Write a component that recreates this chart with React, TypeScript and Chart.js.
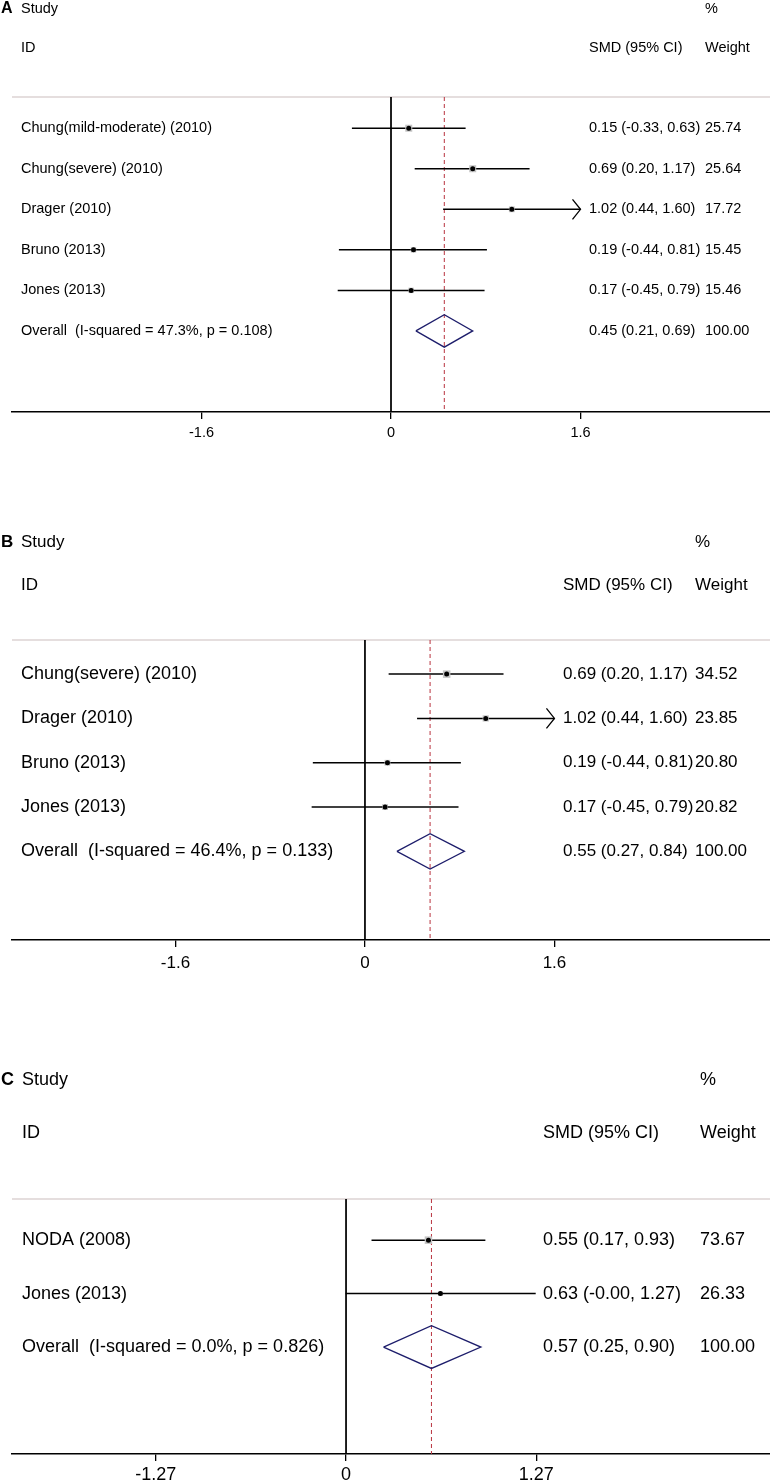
import React, { useEffect, useRef } from "react";
import { Chart, registerables } from "chart.js";

Chart.register(...registerables);

const FONT = "'Liberation Sans', Arial, Helvetica, sans-serif";

// ---------- Panel A ----------
const studiesA = ["Chung(mild-moderate) (2010)", "Chung(severe) (2010)", "Drager (2010)", "Bruno (2013)", "Jones (2013)"];
const smdA = [0.15, 0.69, 1.02, 0.19, 0.17];
const lowerA = [-0.33, 0.2, 0.44, -0.44, -0.45];
const upperA = [0.63, 1.17, 1.604, 0.81, 0.79];
const weightA = [25.74, 25.64, 17.72, 15.45, 15.46];
const overallLabelA = "Overall  (I-squared = 47.3%, p = 0.108)";
const overallA = [0.45, 0.21, 0.69]; // estimate, lower, upper
const overallWeightA = 100.0;
const ticksA = [-1.6, 0, 1.6];
const tickLabelsA = ["-1.6", "0", "1.6"];
const xRangeA = [-3.2, 3.2];

// ---------- Panel B ----------
const studiesB = ["Chung(severe) (2010)", "Drager (2010)", "Bruno (2013)", "Jones (2013)"];
const smdB = [0.69, 1.02, 0.19, 0.17];
const lowerB = [0.2, 0.44, -0.44, -0.45];
const upperB = [1.17, 1.604, 0.81, 0.79];
const weightB = [34.52, 23.85, 20.8, 20.82];
const overallLabelB = "Overall  (I-squared = 46.4%, p = 0.133)";
const overallB = [0.55, 0.27, 0.84];
const overallWeightB = 100.0;
const ticksB = [-1.6, 0, 1.6];
const tickLabelsB = ["-1.6", "0", "1.6"];
const xRangeB = [-2.98, 3.42];

// ---------- Panel C ----------
const studiesC = ["NODA (2008)", "Jones (2013)"];
const smdC = [0.55, 0.63];
const lowerC = [0.17, -0.003];
const upperC = [0.93, 1.266];
const weightC = [73.67, 26.33];
const overallLabelC = "Overall  (I-squared = 0.0%, p = 0.826)";
const overallC = [0.57, 0.25, 0.9];
const overallWeightC = 100.0;
const ticksC = [-1.27, 0, 1.27];
const tickLabelsC = ["-1.27", "0", "1.27"];
const xRangeC = [-2.23, 2.83];

type PanelData = {
  letter: string;
  studies: string[];
  smd: number[];
  lower: number[];
  upper: number[];
  weight: number[];
  overallLabel: string;
  overall: number[];
  overallWeight: number;
  ticks: number[];
  tickLabels: string[];
  xRange: number[];
};

type Layout = {
  top: number;
  height: number;
  padTop: number;
  axisH: number;
  font: number;
  labelFont: number;
  tickFont: number;
  letterFont: number;
  headY1: number;
  headY2: number;
  letterX: number;
  labelX: number;
  ciX: number;
  wX: number;
  maxBox: number;
  tickPad: number;
};

const panelA: PanelData = {
  letter: "A", studies: studiesA, smd: smdA, lower: lowerA, upper: upperA, weight: weightA,
  overallLabel: overallLabelA, overall: overallA, overallWeight: overallWeightA,
  ticks: ticksA, tickLabels: tickLabelsA, xRange: xRangeA,
};
const panelB: PanelData = {
  letter: "B", studies: studiesB, smd: smdB, lower: lowerB, upper: upperB, weight: weightB,
  overallLabel: overallLabelB, overall: overallB, overallWeight: overallWeightB,
  ticks: ticksB, tickLabels: tickLabelsB, xRange: xRangeB,
};
const panelC: PanelData = {
  letter: "C", studies: studiesC, smd: smdC, lower: lowerC, upper: upperC, weight: weightC,
  overallLabel: overallLabelC, overall: overallC, overallWeight: overallWeightC,
  ticks: ticksC, tickLabels: tickLabelsC, xRange: xRangeC,
};

const layoutA: Layout = {
  top: 0, height: 480, padTop: 97, axisH: 68, font: 14.5, labelFont: 14.5, tickFont: 14.5, letterFont: 16,
  headY1: 9, headY2: 48, letterX: 1, labelX: 21, ciX: 589, wX: 705, maxBox: 7, tickPad: 5,
};
const layoutB: Layout = {
  top: 480, height: 520, padTop: 160, axisH: 60, font: 17, labelFont: 18, tickFont: 17, letterFont: 17,
  headY1: 62, headY2: 105, letterX: 1, labelX: 21, ciX: 563, wX: 695, maxBox: 7.5, tickPad: 6,
};
const layoutC: Layout = {
  top: 1000, height: 482, padTop: 199, axisH: 28, font: 18, labelFont: 18, tickFont: 18, letterFont: 18,
  headY1: 80, headY2: 133, letterX: 1, labelX: 22, ciX: 543, wX: 700, maxBox: 7.5, tickPad: 3,
};

const Y_TOP = -0.77;
const DIAMOND_HALF = 0.4;

function makeTextPlugin(p: PanelData, L: Layout) {
  return {
    id: "forestText" + p.letter,
    beforeDatasetsDraw(chart: any) {
      const { ctx, chartArea } = chart;
      ctx.save();
      ctx.strokeStyle = "#dcd3d3";
      ctx.lineWidth = 1.5;
      ctx.beginPath();
      ctx.moveTo(chartArea.left, chartArea.top);
      ctx.lineTo(chartArea.right, chartArea.top);
      ctx.stroke();
      ctx.restore();
    },
    afterDatasetsDraw(chart: any) {
      const { ctx } = chart;
      const xs = chart.scales.x;
      const ys = chart.scales.y;
      const clipMax = p.ticks[p.ticks.length - 1];
      ctx.save();
      ctx.strokeStyle = "#000";
      ctx.lineWidth = 1.3;
      p.upper.forEach((u, i) => {
        if (u > clipMax) {
          const tx = xs.getPixelForValue(clipMax);
          const ty = ys.getPixelForValue(i);
          ctx.beginPath();
          ctx.moveTo(tx - 8, ty - 10);
          ctx.lineTo(tx, ty);
          ctx.lineTo(tx - 8, ty + 10);
          ctx.stroke();
        }
      });
      ctx.restore();
    },
    afterDraw(chart: any) {
      const { ctx } = chart;
      const ys = chart.scales.y;
      ctx.save();
      ctx.fillStyle = "#000";
      ctx.textBaseline = "middle";
      ctx.textAlign = "left";
      ctx.font = `bold ${L.letterFont}px ${FONT}`;
      ctx.fillText(p.letter, L.letterX, L.headY1);
      ctx.font = `${L.font}px ${FONT}`;
      ctx.fillText("Study", L.labelX, L.headY1);
      ctx.fillText("%", L.wX, L.headY1);
      ctx.fillText("ID", L.labelX, L.headY2);
      ctx.fillText("SMD (95% CI)", L.ciX, L.headY2);
      ctx.fillText("Weight", L.wX, L.headY2);
      const fmtCI = (e: number, lo: number, hi: number) =>
        `${e.toFixed(2)} (${lo.toFixed(2)}, ${hi.toFixed(2)})`;
      p.studies.forEach((s, i) => {
        const y = ys.getPixelForValue(i);
        ctx.font = `${L.labelFont}px ${FONT}`;
        ctx.fillText(s, L.labelX, y);
        ctx.font = `${L.font}px ${FONT}`;
        ctx.fillText(fmtCI(p.smd[i], p.lower[i], p.upper[i]), L.ciX, y);
        ctx.fillText(p.weight[i].toFixed(2), L.wX, y);
      });
      const oy = ys.getPixelForValue(p.studies.length);
      ctx.font = `${L.labelFont}px ${FONT}`;
      ctx.fillText(p.overallLabel, L.labelX, oy);
      ctx.font = `${L.font}px ${FONT}`;
      ctx.fillText(fmtCI(p.overall[0], p.overall[1], p.overall[2]), L.ciX, oy);
      ctx.fillText(p.overallWeight.toFixed(2), L.wX, oy);
      ctx.restore();
    },
  };
}

function buildConfig(p: PanelData, L: Layout): any {
  const n = p.studies.length;
  const oi = n;
  const yMax = n + 2;
  const clipMax = p.ticks[p.ticks.length - 1];
  const maxW = Math.max(...p.weight);
  const datasets: any[] = [];
  datasets.push({
    data: [{ x: 0, y: Y_TOP }, { x: 0, y: yMax }],
    showLine: true, borderColor: "#000", borderWidth: 1, pointRadius: 0, order: 10,
  });
  datasets.push({
    data: [{ x: p.overall[0], y: Y_TOP }, { x: p.overall[0], y: yMax }],
    showLine: true, borderColor: "#b8323f", borderWidth: 1, borderDash: [4, 3], pointRadius: 0, order: 9,
  });
  p.studies.forEach((_, i) => {
    datasets.push({
      data: [{ x: p.lower[i], y: i }, { x: Math.min(p.upper[i], clipMax), y: i }],
      showLine: true, borderColor: "#000", borderWidth: 1.5, pointRadius: 0, order: 5,
    });
  });
  datasets.push({
    data: p.smd.map((v, i) => ({ x: v, y: i })),
    pointStyle: "rect",
    pointRadius: p.weight.map((w) => (L.maxBox * Math.sqrt(w / maxW)) / 1.414),
    backgroundColor: "#c4c4c4", borderWidth: 0, order: 3,
  });
  datasets.push({
    data: p.smd.map((v, i) => ({ x: v, y: i })),
    pointStyle: "circle", pointRadius: 2.5, backgroundColor: "#000", borderWidth: 0, order: 1,
  });
  const [e, lo, hi] = p.overall;
  datasets.push({
    data: [
      { x: lo, y: oi }, { x: e, y: oi - DIAMOND_HALF }, { x: hi, y: oi },
      { x: e, y: oi + DIAMOND_HALF }, { x: lo, y: oi },
    ],
    showLine: true, borderColor: "#1d1d6b", borderWidth: 1.3, pointRadius: 0, order: 2,
    borderJoinStyle: "miter", tension: 0,
  });

  return {
    type: "scatter",
    data: { datasets },
    options: {
      responsive: false,
      animation: false,
      devicePixelRatio: 1,
      events: [],
      layout: { autoPadding: false, padding: { top: L.padTop, left: 12, right: 0, bottom: 0 } },
      plugins: { legend: { display: false }, tooltip: { enabled: false } },
      scales: {
        x: {
          type: "linear",
          min: p.xRange[0],
          max: p.xRange[1],
          afterBuildTicks: (s: any) => {
            s.ticks = p.ticks.map((v) => ({ value: v }));
          },
          afterFit: (s: any) => {
            s.height = L.axisH;
          },
          ticks: {
            callback: (_v: any, idx: number) => p.tickLabels[idx],
            font: { size: L.tickFont, family: FONT },
            color: "#000",
            padding: L.tickPad,
            maxRotation: 0,
            autoSkip: false,
          },
          grid: { display: true, drawOnChartArea: false, drawTicks: true, tickLength: 7, color: "#000", lineWidth: 1.3 },
          border: { display: true, color: "#000", width: 1.5 },
        },
        y: { type: "linear", display: false, min: Y_TOP, max: yMax, reverse: true },
      },
    },
    plugins: [makeTextPlugin(p, L)],
  };
}

function ForestPanel({ panel, layout }: { panel: PanelData; layout: Layout }) {
  const ref = useRef<HTMLCanvasElement>(null);
  useEffect(() => {
    const chart = new Chart(ref.current as HTMLCanvasElement, buildConfig(panel, layout));
    return () => chart.destroy();
  }, [panel, layout]);
  return (
    <canvas
      ref={ref}
      width={770}
      height={layout.height}
      style={{ position: "absolute", left: 0, top: layout.top, width: 770, height: layout.height }}
    />
  );
}

export default function App() {
  return (
    <div style={{ position: "absolute", left: 0, top: 0, width: 770, height: 1482, background: "#fff", overflow: "hidden" }}>
      <ForestPanel panel={panelA} layout={layoutA} />
      <ForestPanel panel={panelB} layout={layoutB} />
      <ForestPanel panel={panelC} layout={layoutC} />
    </div>
  );
}
